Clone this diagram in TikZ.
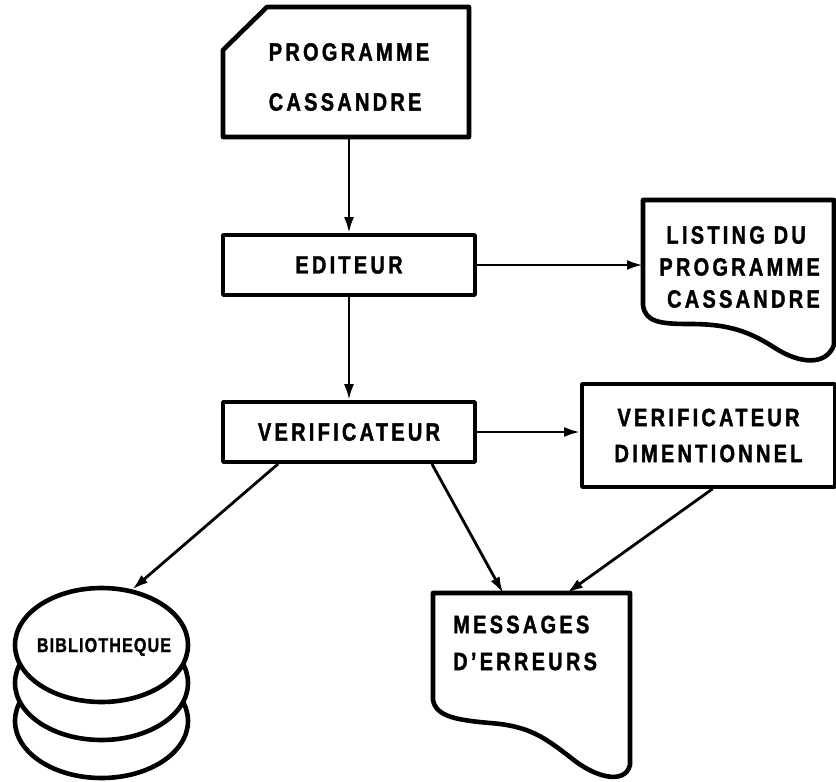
\documentclass[tikz,border=0pt]{standalone}
\usepackage{fontspec}
\usetikzlibrary{arrows.meta,calc,shapes.geometric}
\newfontfamily\labfont[UprightFont=* Bold,FakeStretch=0.8,LetterSpace=13,FakeBold=1.4]{Liberation Sans}
\newfontfamily\labfontB[UprightFont=* Bold,FakeStretch=0.8,LetterSpace=6,FakeBold=1.4]{Liberation Sans}
\tikzset{
  lab/.style={font={\labfont\fontsize{25}{36}\selectfont}, inner sep=0pt},
  labB/.style={font={\labfontB\fontsize{20}{24}\selectfont}, inner sep=0pt},
  thickline/.style={line width=4.6pt, line join=round},
  box/.style={draw, line width=3.8pt, line join=round, minimum width=252pt, minimum height=60pt, lab},
  arrowline/.style={line width=2.8pt, -{Latex[length=16pt,width=10pt]}}
}
\begin{document}
\begin{tikzpicture}
\useasboundingbox (0pt,0pt) rectangle (836pt,-782pt);
\begin{scope}[x=1pt,y=-1pt]
% program card
\node[lab, align=left] (prog) at (349,77) {PROGRAMME\\[14pt]CASSANDRE};
\draw[thickline] ($(prog)+(-126,60)$) -- ($(prog)+(120,60)$) -- ($(prog)+(120,-70)$)
  -- ($(prog)+(-82,-70)$) -- ($(prog)+(-126,-27)$) -- cycle;
\coordinate (progS) at ($(prog)+(0,60)$);

% process boxes
\node[box] (edit) at (349,265) {EDITEUR};
\node[box] (verif) at (349,432) {VERIFICATEUR};
\node[box, minimum width=253pt, minimum height=103pt, align=center] (dim) at (708.5,435.5) {VERIFICATEUR\\DIMENTIONNEL};

% listing document
\draw[thickline] (643,200) -- (834,200) -- (834,345)
  .. controls (826,366) and (800,364) .. (775,348)
  .. controls (750,332) and (730,324) .. (690,324)
  .. controls (660,324) and (645,322) .. (643,305) -- cycle;
\coordinate (lstW) at (643,268);
\node[lab, align=right, anchor=east, font={\labfont\fontsize{25}{32}\selectfont}] (lsttxt) at (820,267) {LISTING DU\hspace*{14pt}\\PROGRAMME\\CASSANDRE};

% messages document
\draw[thickline] (433,593) -- (630,593) -- (630,765)
  .. controls (625,785) and (595,778) .. (570,757)
  .. controls (545,738) and (530,726) .. (490,723)
  .. controls (455,720) and (436,716) .. (433,700) -- cycle;
\node[lab, align=left, anchor=west, font={\labfont\fontsize{25}{37}\selectfont}] (msgtxt) at (453,643) {MESSAGES\\D’ERREURS};
\coordinate (msgA) at (503,593);
\coordinate (msgB) at (567,593);

% library stack
\draw[thickline, fill=white] (101.5,721) ellipse [x radius=86.5, y radius=57];
\draw[thickline, fill=white] (101.5,683) ellipse [x radius=86.5, y radius=57];
\node[draw, ellipse, thickline, fill=white, minimum width=173pt, minimum height=114pt, inner sep=0pt] (bib) at (101.5,645) {};
\node[labB] (bibtxt) at (104,647) {BIBLIOTHEQUE};

% connectors
\coordinate (vB) at ($(verif.south west)+(57,0)$);
\coordinate (vM) at ($(verif.south east)+(-45,0)$);
\coordinate (dM) at ($(dim.south)+(4,0)$);
\draw[arrowline] (progS) -- (edit.north);
\draw[arrowline] (edit.south) -- (verif.north);
\draw[arrowline] (edit.east) -- (edit.east -| lstW);
\draw[arrowline] (verif.east) -- (verif.east -| dim.west);
\draw[arrowline] (vB) -- (bib.61);
\draw[arrowline] (vM) -- (msgA);
\draw[arrowline] (dM) -- (msgB);
\end{scope}
\end{tikzpicture}
\end{document}
